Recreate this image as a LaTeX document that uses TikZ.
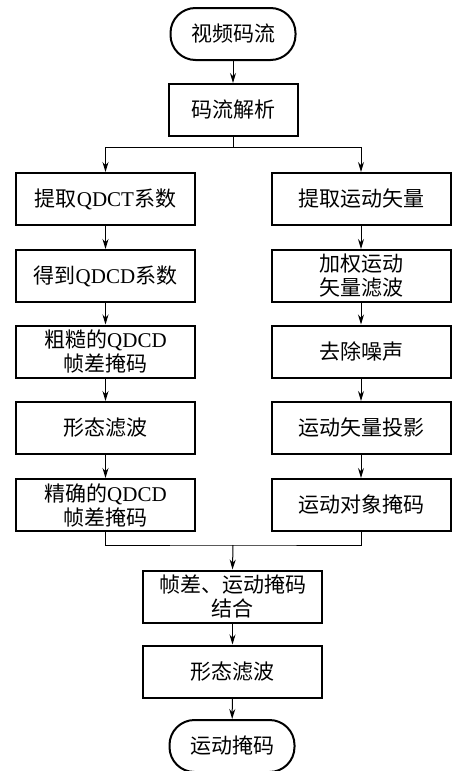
\documentclass[tikz,border=0pt]{standalone}
\usepackage{fontspec}
\setmainfont{Liberation Serif}
\newfontfamily\cjk{Noto Sans CJK SC}
\usetikzlibrary{arrows.meta}
\newcommand\zh[1]{{\cjk #1}}
\begin{document}
\begin{tikzpicture}[x=1pt,y=-1pt,
 box/.style={draw,line width=2pt,minimum width=179pt,minimum height=52pt,inner sep=0pt,align=center,font=\fontsize{21}{24}\selectfont},
 term/.style={box,minimum width=125pt,rounded corners=25pt},
 conn/.style={line width=1pt},
 arr/.style={conn,-{Stealth[length=10pt,width=6pt]}}]
\useasboundingbox (0,0) rectangle (456,771);
\node[term] (src) at (233,34) {\zh{视频码流}};
\node[box,minimum width=129pt] (parse) at (233,110) {\zh{码流解析}};
\node[box] (l1) at (105.5,199) {\zh{提取}QDCT\zh{系数}};
\node[box] (l2) at (105.5,276) {\zh{得到}QDCD\zh{系数}};
\node[box] (l3) at (105.5,351.5) {\zh{粗糙的}QDCD\\\zh{帧差掩码}};
\node[box] (l4) at (105.5,428) {\zh{形态滤波}};
\node[box] (l5) at (105.5,505) {\zh{精确的}QDCD\\\zh{帧差掩码}};
\node[box] (r1) at (361,199) {\zh{提取运动矢量}};
\node[box] (r2) at (361,276) {\zh{加权运动}\\\zh{矢量滤波}};
\node[box] (r3) at (361,351.5) {\zh{去除噪声}};
\node[box] (r4) at (361,428) {\zh{运动矢量投影}};
\node[box] (r5) at (361,505) {\zh{运动对象掩码}};
\node[box] (comb) at (232.5,596.5) {\zh{帧差、运动掩码}\\\zh{结合}};
\node[box] (filt) at (232.5,671.5) {\zh{形态滤波}};
\node[term] (out) at (232,746) {\zh{运动掩码}};
\coordinate (s) at (233,147);
\coordinate (m) at (233,545);
\draw[arr] (src) -- (parse);
\draw[conn] (parse.south) -- (s);
\draw[arr] (s) -| (l1.north);
\draw[arr] (s) -| (r1.north);
\draw[arr] (l1) -- (l2);
\draw[arr] (l2) -- (l3);
\draw[arr] (l3) -- (l4);
\draw[arr] (l4) -- (l5);
\draw[arr] (r1) -- (r2);
\draw[arr] (r2) -- (r3);
\draw[arr] (r3) -- (r4);
\draw[arr] (r4) -- (r5);
\draw[conn] (l5.south) |- (m) -| (r5.south);
\draw[arr] (m) -- (comb.north);
\draw[arr] (comb) -- (filt);
\draw[arr] (filt) -- (out);
\end{tikzpicture}
\end{document}
